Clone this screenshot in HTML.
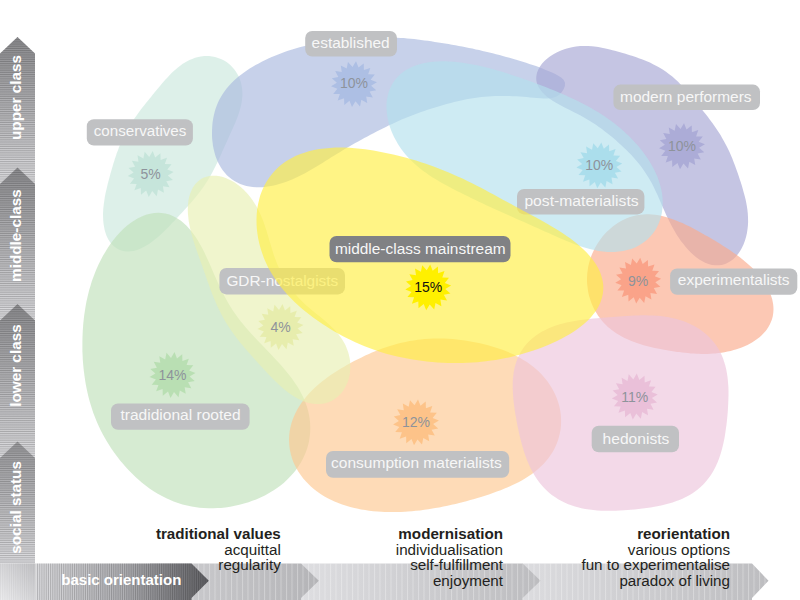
<!DOCTYPE html>
<html><head><meta charset="utf-8"><title>milieus</title>
<style>
html,body{margin:0;padding:0;background:#fff}
body{width:800px;height:600px;overflow:hidden;font-family:"Liberation Sans",sans-serif}
svg{display:block}
text{font-family:"Liberation Sans",sans-serif}
.cols text{font-size:15.2px;fill:#231f20}
.cols .b{font-weight:bold}
</style></head><body>
<svg width="800" height="600" viewBox="0 0 800 600">
<defs>
<linearGradient id="vg0" gradientUnits="userSpaceOnUse" x1="0" y1="37.0" x2="0" y2="183.8"><stop offset="0" stop-color="#8f8f92"/><stop offset="1" stop-color="#e0e0e3"/></linearGradient>
<linearGradient id="vg1" gradientUnits="userSpaceOnUse" x1="0" y1="167.5" x2="0" y2="320.5"><stop offset="0" stop-color="#8f8f92"/><stop offset="1" stop-color="#e0e0e3"/></linearGradient>
<linearGradient id="vg2" gradientUnits="userSpaceOnUse" x1="0" y1="304.0" x2="0" y2="458.0"><stop offset="0" stop-color="#8f8f92"/><stop offset="1" stop-color="#e0e0e3"/></linearGradient>
<linearGradient id="vg3" gradientUnits="userSpaceOnUse" x1="0" y1="441.5" x2="0" y2="563.5"><stop offset="0" stop-color="#9c9c9f"/><stop offset="1" stop-color="#e0e0e3"/></linearGradient>
<linearGradient id="hg0" gradientUnits="userSpaceOnUse" x1="35.5" y1="0" x2="208.8" y2="0"><stop offset="0" stop-color="#e0e0e3"/><stop offset="0.5" stop-color="#b4b4b8"/><stop offset="1" stop-color="#626266"/></linearGradient>
<linearGradient id="hg1" gradientUnits="userSpaceOnUse" x1="150.0" y1="0" x2="318.8" y2="0"><stop offset="0" stop-color="#cfcfd2"/><stop offset="1" stop-color="#b4b4b7"/></linearGradient>
<linearGradient id="hg2" gradientUnits="userSpaceOnUse" x1="301.0" y1="0" x2="540.5" y2="0"><stop offset="0" stop-color="#dedee1"/><stop offset="1" stop-color="#bcbcbf"/></linearGradient>
<linearGradient id="hg3" gradientUnits="userSpaceOnUse" x1="522.5" y1="0" x2="768.5" y2="0"><stop offset="0" stop-color="#dcdcdf"/><stop offset="1" stop-color="#bdbdc0"/></linearGradient>
<pattern id="hst" width="4" height="1.85" patternUnits="userSpaceOnUse"><rect width="4" height="0.95" fill="#000" fill-opacity="0.2"/></pattern>
<pattern id="vst" width="1.85" height="4" patternUnits="userSpaceOnUse"><rect width="0.95" height="4" fill="#000" fill-opacity="0.2"/></pattern>
<pattern id="vst2" width="1.85" height="4" patternUnits="userSpaceOnUse"><rect width="0.95" height="4" fill="#000" fill-opacity="0.05"/></pattern>
<pattern id="vln" width="5.5" height="4" patternUnits="userSpaceOnUse"><rect width="1" height="4" fill="#fff" fill-opacity="0.3"/></pattern>
<linearGradient id="cg" x1="1" y1="0" x2="0" y2="1"><stop offset="0" stop-color="#c4c4c7"/><stop offset="1" stop-color="#eeeef0"/></linearGradient>
</defs>
<rect width="800" height="600" fill="#fff"/>
<g id="blobs">
<g>
<path d="M207.1 56.0L209.1 56.1L212.1 56.4L215.1 57.0L218.0 57.9L220.9 59.0L223.6 60.3L225.4 61.3L227.9 63.1L230.2 65.0L232.4 67.2L234.4 69.5L236.1 71.9L237.2 73.7L238.6 76.3L239.8 79.1L240.8 82.0L241.5 84.9L242.0 87.9L242.3 90.9L242.4 92.9L242.4 95.8L242.1 98.8L241.8 101.8L241.2 104.7L240.5 107.6L240.0 109.5L239.2 112.3L238.2 115.2L237.2 117.9L236.1 120.7L235.0 123.4L233.8 126.1L233.0 127.9L231.8 130.6L230.6 133.3L229.3 136.0L228.1 138.7L226.9 141.4L226.1 143.3L224.8 146.0L223.6 148.8L222.3 151.6L221.1 154.4L219.8 157.2L218.5 160.1L217.6 161.9L216.2 164.8L214.8 167.5L213.4 170.3L212.0 173.1L210.5 175.8L209.4 177.5L207.9 180.2L206.2 182.7L204.6 185.3L202.9 187.7L201.2 190.1L200.0 191.7L198.2 194.0L196.4 196.3L194.5 198.5L192.7 200.7L190.8 202.9L188.9 205.0L187.6 206.4L185.7 208.6L183.7 210.7L181.7 212.9L179.7 215.0L177.7 217.2L176.3 218.7L174.3 220.9L172.1 223.1L170.0 225.4L167.8 227.7L165.5 230.0L163.2 232.2L161.6 233.7L159.2 235.9L156.8 238.0L154.2 240.1L151.7 242.1L149.0 243.9L147.3 245.0L144.6 246.6L141.8 248.0L139.1 249.2L136.4 250.2L133.6 250.9L130.9 251.3L129.1 251.5L126.5 251.5L124.0 251.2L121.5 250.6L119.2 249.7L116.9 248.6L115.5 247.6L113.5 246.0L111.7 244.2L110.0 242.1L108.5 239.7L107.2 237.2L106.4 235.4L105.4 232.6L104.6 229.7L104.0 226.6L103.5 223.5L103.2 220.3L103.1 217.1L103.0 214.9L103.1 211.6L103.3 208.4L103.7 205.1L104.1 201.9L104.6 198.7L104.9 196.6L105.5 193.5L106.2 190.5L106.9 187.5L107.6 184.6L108.3 181.7L109.1 178.8L109.6 177.0L110.3 174.2L111.1 171.4L111.9 168.7L112.7 165.9L113.5 163.2L114.1 161.4L115.0 158.6L115.9 155.9L116.8 153.1L117.9 150.4L118.9 147.6L120.0 144.8L120.8 143.0L122.0 140.2L123.3 137.5L124.7 134.7L126.1 132.0L127.7 129.2L128.7 127.4L130.3 124.8L132.0 122.1L133.7 119.5L135.5 116.9L137.3 114.4L138.5 112.7L140.3 110.3L142.2 107.8L144.1 105.4L146.0 103.1L147.9 100.7L149.7 98.4L151.0 96.9L152.9 94.6L154.7 92.3L156.6 90.1L158.5 87.8L160.4 85.6L161.6 84.1L163.5 81.8L165.5 79.6L167.5 77.4L169.5 75.2L171.6 73.1L173.8 71.0L175.3 69.7L177.6 67.7L179.9 65.9L182.4 64.1L185.0 62.5L187.6 61.0L189.5 60.1L192.2 58.9L195.1 57.8L198.1 57.0L201.0 56.5L204.1 56.1Z" fill="#c8e6dc" fill-opacity="0.62"/>
<path d="M152.7 151.1L155.2 157.4L160.4 153.2L160.6 159.9L167.0 157.7L164.8 164.1L171.5 164.3L167.3 169.5L173.6 172.0L167.8 175.5L172.9 180.0L166.3 181.3L169.5 187.2L162.9 186.2L163.9 192.8L158.0 189.6L156.7 196.2L152.2 191.1L148.7 196.9L146.2 190.6L141.0 194.8L140.8 188.1L134.4 190.3L136.6 183.9L129.9 183.7L134.1 178.5L127.8 176.0L133.6 172.5L128.5 168.0L135.1 166.7L131.9 160.8L138.5 161.8L137.5 155.2L143.4 158.4L144.7 151.8L149.2 156.9Z" fill="#b8dfd2" fill-opacity="0.62"/>
<text x="150.7" y="179.0" font-size="14" text-anchor="middle" fill="#8e939b">5%</text>
<rect x="86.8" y="119.3" width="106.1" height="26.3" rx="7" fill="#c0c1c3"/>
<text x="93.7" y="136.2" font-size="15.3" textLength="92.7" lengthAdjust="spacingAndGlyphs" fill="#f7f7f7">conservatives</text>
</g>
<g>
<path d="M212.6 122.2L213.1 118.9L213.8 115.6L214.6 112.3L215.5 109.1L216.6 105.9L217.9 102.8L219.3 99.8L220.9 96.9L222.7 94.0L224.6 91.3L226.6 88.6L228.8 86.0L231.1 83.5L233.5 81.1L236.0 78.8L238.6 76.6L241.3 74.5L244.0 72.4L246.8 70.5L249.7 68.6L252.7 66.8L255.6 65.1L258.7 63.4L261.7 61.8L264.8 60.2L267.9 58.8L271.1 57.3L274.3 56.0L277.5 54.7L280.7 53.4L283.9 52.2L287.2 51.0L290.5 50.0L293.8 48.9L297.1 47.9L300.5 47.0L303.8 46.2L307.2 45.4L310.6 44.6L314.0 43.9L317.4 43.3L320.8 42.7L324.2 42.1L327.6 41.6L331.1 41.1L334.5 40.6L338.0 40.1L341.4 39.7L344.9 39.4L348.3 39.0L351.8 38.7L355.2 38.4L358.7 38.1L362.2 37.9L365.6 37.7L369.1 37.6L372.6 37.4L376.0 37.3L379.5 37.3L383.0 37.3L386.4 37.3L389.9 37.4L393.4 37.5L396.8 37.7L400.3 37.9L403.8 38.1L407.2 38.4L410.7 38.7L414.1 39.1L417.6 39.5L421.0 39.9L424.5 40.4L427.9 40.8L431.3 41.3L434.8 41.9L438.2 42.4L441.7 42.9L445.1 43.5L448.5 44.1L451.9 44.7L455.4 45.3L458.8 45.9L462.2 46.6L465.6 47.3L469.0 47.9L472.4 48.6L475.8 49.4L479.2 50.1L482.6 50.9L486.0 51.7L489.3 52.5L492.7 53.3L496.1 54.2L499.5 55.1L502.8 56.0L506.2 56.9L509.5 57.8L512.8 58.8L516.2 59.8L519.5 60.7L522.8 61.7L526.1 62.8L529.4 63.9L532.7 65.0L536.0 66.1L539.3 67.3L542.5 68.6L545.7 69.9L549.0 71.2L552.1 72.6L555.3 74.1L558.3 75.7L561.2 77.5L563.6 79.8L565.0 82.7L564.9 85.9L563.7 89.0L561.9 92.0L559.6 94.4L556.9 96.3L553.8 97.5L550.5 98.2L547.1 98.4L543.7 98.4L540.3 98.3L536.8 98.0L533.4 97.7L529.9 97.4L526.5 97.0L523.0 96.7L519.5 96.5L516.1 96.3L512.6 96.2L509.2 96.1L505.7 96.0L502.2 95.9L498.8 96.0L495.3 96.0L491.9 96.2L488.4 96.4L485.0 96.7L481.5 97.0L478.1 97.5L474.7 97.9L471.3 98.5L467.8 99.1L464.4 99.8L461.1 100.5L457.7 101.2L454.3 102.0L450.9 102.9L447.6 103.8L444.2 104.7L440.9 105.7L437.6 106.7L434.3 107.7L430.9 108.7L427.6 109.8L424.4 110.9L421.1 112.1L417.8 113.2L414.5 114.4L411.3 115.7L408.1 116.9L404.9 118.3L401.7 119.6L398.5 121.0L395.3 122.4L392.2 123.9L389.0 125.3L385.9 126.9L382.8 128.4L379.7 130.0L376.6 131.6L373.5 133.2L370.4 134.8L367.4 136.4L364.3 138.1L361.3 139.7L358.2 141.4L355.2 143.1L352.2 144.8L349.2 146.6L346.2 148.3L343.2 150.1L340.2 151.9L337.2 153.7L334.3 155.5L331.3 157.3L328.4 159.2L325.4 161.0L322.5 162.9L319.5 164.7L316.6 166.5L313.6 168.3L310.6 170.0L307.6 171.7L304.6 173.4L301.5 175.0L298.4 176.5L295.3 178.0L292.1 179.4L288.9 180.7L285.7 181.9L282.5 183.0L279.2 184.0L275.9 184.9L272.6 185.7L269.3 186.3L266.0 186.8L262.6 187.2L259.3 187.3L256.0 187.3L252.7 187.0L249.5 186.6L246.3 185.9L243.2 185.1L240.2 183.9L237.3 182.6L234.5 181.1L231.8 179.3L229.3 177.3L226.9 175.2L224.8 172.8L222.7 170.3L220.9 167.6L219.3 164.8L217.8 161.8L216.5 158.8L215.4 155.7L214.5 152.5L213.7 149.2L213.0 145.9L212.6 142.6L212.2 139.2L212.0 135.8L212.0 132.4L212.1 129.0L212.3 125.6Z" fill="#a9b9de" fill-opacity="0.65"/>
<path d="M356.0 61.3L358.5 67.6L363.7 63.4L363.9 70.1L370.3 67.9L368.1 74.3L374.8 74.5L370.6 79.7L376.9 82.2L371.1 85.7L376.2 90.2L369.6 91.5L372.8 97.4L366.2 96.4L367.2 103.0L361.3 99.8L360.0 106.4L355.5 101.3L352.0 107.1L349.5 100.8L344.3 105.0L344.1 98.3L337.7 100.5L339.9 94.1L333.2 93.9L337.4 88.7L331.1 86.2L336.9 82.7L331.8 78.2L338.4 76.9L335.2 71.0L341.8 72.0L340.8 65.4L346.7 68.6L348.0 62.0L352.5 67.1Z" fill="#9db3e0" fill-opacity="0.62"/>
<text x="354.0" y="88.3" font-size="14" text-anchor="middle" fill="#8e939b">10%</text>
<rect x="305.2" y="31.0" width="91.8" height="25.5" rx="7" fill="#c0c1c3"/>
<text x="311.6" y="47.5" font-size="15.3" textLength="78.1" lengthAdjust="spacingAndGlyphs" fill="#f7f7f7">established</text>
</g>
<g>
<path d="M536.2 77.8L536.4 75.8L537.1 72.6L538.3 69.5L540.0 66.5L542.1 63.5L544.7 60.7L546.7 58.9L549.9 56.4L553.4 54.2L557.1 52.2L561.0 50.4L565.1 49.0L567.8 48.2L571.9 47.2L576.0 46.5L580.1 46.1L584.1 46.0L588.1 46.0L591.9 46.3L594.4 46.6L598.2 47.1L601.8 47.8L605.4 48.5L608.9 49.3L612.5 50.2L614.8 50.8L618.3 51.8L621.9 52.8L625.5 53.8L629.1 54.9L632.7 56.1L636.4 57.3L638.8 58.2L642.5 59.6L646.2 61.0L649.9 62.6L653.5 64.4L657.0 66.2L659.3 67.5L662.7 69.6L666.0 71.8L669.2 74.2L672.3 76.6L675.3 79.2L678.1 81.8L679.9 83.7L682.6 86.4L685.2 89.2L687.7 92.0L690.1 94.9L692.5 97.8L694.1 99.7L696.5 102.6L698.8 105.5L701.1 108.4L703.5 111.4L705.8 114.3L707.4 116.3L709.7 119.4L712.0 122.5L714.3 125.7L716.5 128.9L718.7 132.2L720.8 135.6L722.1 137.9L724.1 141.4L726.0 144.9L727.8 148.5L729.5 152.1L731.1 155.7L732.1 158.1L733.5 161.7L734.9 165.3L736.2 168.9L737.5 172.4L738.7 175.9L739.8 179.5L740.6 181.8L741.7 185.3L742.7 188.8L743.7 192.4L744.7 195.9L745.6 199.6L746.1 202.1L746.8 205.8L747.4 209.7L747.8 213.6L748.0 217.6L748.1 221.7L747.9 225.8L747.6 228.6L747.0 232.7L746.1 236.7L744.9 240.7L743.5 244.6L741.7 248.2L740.4 250.5L738.2 253.7L735.8 256.7L733.2 259.2L730.3 261.3L727.3 263.0L725.2 263.9L721.9 264.9L718.6 265.3L715.3 265.3L711.9 264.9L708.5 264.0L705.1 262.7L702.9 261.6L699.7 259.7L696.5 257.5L693.5 255.0L690.5 252.3L687.7 249.3L685.9 247.3L683.4 244.1L680.9 240.9L678.6 237.5L676.4 234.2L674.4 230.7L672.4 227.3L671.2 225.0L669.4 221.6L667.7 218.1L666.1 214.7L664.6 211.2L663.0 207.7L662.0 205.4L660.5 202.0L659.0 198.5L657.5 195.1L655.9 191.7L654.3 188.2L652.6 184.8L651.4 182.6L649.5 179.2L647.5 175.9L645.4 172.7L643.2 169.5L640.9 166.3L639.3 164.2L636.8 161.2L634.2 158.2L631.6 155.3L628.8 152.5L626.1 149.7L624.2 147.9L621.3 145.2L618.5 142.7L615.6 140.1L612.7 137.6L609.8 135.2L606.9 132.9L604.9 131.4L601.9 129.1L598.9 126.9L595.9 124.8L592.7 122.7L589.5 120.7L587.3 119.4L584.0 117.5L580.6 115.6L577.1 113.7L573.5 111.9L569.8 110.1L566.1 108.2L563.7 107.0L560.0 105.0L556.4 103.0L553.0 100.9L549.7 98.7L546.7 96.4L544.8 94.8L542.3 92.3L540.1 89.6L538.4 86.8L537.2 83.9L536.4 80.9Z" fill="#a6a6d4" fill-opacity="0.65"/>
<path d="M684.0 123.3L686.5 129.6L691.7 125.4L691.9 132.2L698.3 130.0L696.1 136.4L702.8 136.5L698.6 141.8L704.9 144.2L699.1 147.7L704.2 152.2L697.6 153.5L700.8 159.4L694.2 158.4L695.2 165.1L689.3 161.8L688.0 168.5L683.5 163.4L680.0 169.2L677.5 162.9L672.3 167.1L672.1 160.3L665.7 162.5L667.9 156.1L661.2 156.0L665.4 150.7L659.1 148.3L664.9 144.8L659.8 140.3L666.4 139.0L663.2 133.1L669.8 134.1L668.8 127.4L674.7 130.7L676.0 124.0L680.5 129.1Z" fill="#9c9cd0" fill-opacity="0.62"/>
<text x="682.0" y="151.2" font-size="14" text-anchor="middle" fill="#8e939b">10%</text>
<rect x="613.4" y="84.6" width="146.6" height="25.4" rx="7" fill="#c0c1c3"/>
<text x="620.0" y="101.6" font-size="15.3" textLength="131.6" lengthAdjust="spacingAndGlyphs" fill="#f7f7f7">modern performers</text>
</g>
<g>
<path d="M587.0 281.2L587.0 279.2L587.1 276.2L587.3 273.2L587.7 270.2L588.1 267.2L588.8 264.2L589.3 262.3L590.1 259.4L591.1 256.5L592.2 253.7L593.5 250.9L594.8 248.2L595.8 246.4L597.4 243.8L599.1 241.2L600.9 238.7L602.7 236.3L604.7 234.0L606.8 231.8L608.3 230.4L610.5 228.4L612.8 226.4L615.2 224.7L617.7 223.0L620.2 221.4L622.0 220.5L624.6 219.2L627.3 218.0L630.0 217.0L632.8 216.2L635.6 215.5L638.5 214.9L640.4 214.7L643.3 214.4L646.2 214.2L649.2 214.3L652.1 214.4L655.1 214.8L657.1 215.0L660.0 215.6L663.0 216.2L665.9 217.0L668.9 217.9L671.8 218.9L674.7 219.9L676.6 220.7L679.5 221.9L682.4 223.1L685.2 224.4L688.0 225.8L690.7 227.1L692.5 228.1L695.2 229.5L697.9 231.0L700.6 232.4L703.2 233.9L705.8 235.4L707.5 236.3L710.0 237.8L712.5 239.3L715.1 240.8L717.5 242.3L720.0 243.8L722.5 245.4L724.1 246.4L726.5 248.0L729.0 249.6L731.4 251.2L733.8 252.9L736.2 254.6L737.8 255.7L740.2 257.6L742.6 259.4L745.0 261.4L747.3 263.4L749.6 265.4L751.9 267.6L753.4 269.1L755.5 271.3L757.7 273.7L759.7 276.1L761.6 278.6L763.5 281.1L764.6 282.9L766.3 285.5L767.8 288.2L769.1 290.9L770.3 293.7L771.3 296.5L772.2 299.3L772.6 301.2L773.1 304.0L773.4 306.8L773.5 309.6L773.3 312.4L773.0 315.1L772.6 316.9L771.9 319.5L770.9 322.1L769.8 324.6L768.4 327.1L766.8 329.4L765.7 330.9L763.8 333.1L761.7 335.2L759.5 337.2L757.1 339.0L754.6 340.8L752.0 342.4L750.2 343.5L747.5 344.9L744.6 346.2L741.7 347.5L738.7 348.5L735.7 349.5L733.7 350.1L730.7 350.9L727.6 351.6L724.5 352.2L721.5 352.7L718.4 353.1L715.4 353.4L713.4 353.6L710.4 353.8L707.4 353.9L704.5 353.9L701.5 353.9L698.6 353.8L696.6 353.7L693.7 353.6L690.8 353.4L687.9 353.1L685.0 352.8L682.1 352.5L679.2 352.1L677.2 351.9L674.3 351.5L671.4 351.0L668.4 350.5L665.5 350.0L662.5 349.5L660.5 349.1L657.6 348.5L654.6 347.9L651.6 347.2L648.6 346.5L645.6 345.7L643.6 345.2L640.7 344.3L637.7 343.3L634.8 342.3L632.0 341.3L629.1 340.1L626.3 338.8L624.5 338.0L621.8 336.6L619.2 335.1L616.6 333.5L614.1 331.8L611.7 330.0L610.2 328.8L607.9 326.9L605.7 324.8L603.7 322.7L601.7 320.4L599.9 318.1L598.1 315.7L597.1 314.1L595.5 311.5L594.1 308.9L592.8 306.3L591.6 303.5L590.6 300.7L590.0 298.8L589.1 296.0L588.4 293.0L587.9 290.1L587.5 287.1L587.2 284.2Z" fill="#fbab8c" fill-opacity="0.65"/>
<path d="M640.2 257.8L642.7 264.1L647.9 259.9L648.1 266.6L654.5 264.4L652.3 270.8L659.0 271.0L654.8 276.2L661.1 278.7L655.3 282.2L660.4 286.7L653.8 288.0L657.0 293.9L650.4 292.9L651.4 299.5L645.5 296.3L644.2 302.9L639.7 297.8L636.2 303.6L633.7 297.3L628.5 301.5L628.3 294.8L621.9 297.0L624.1 290.6L617.4 290.4L621.6 285.2L615.3 282.7L621.1 279.2L616.0 274.7L622.6 273.4L619.4 267.5L626.0 268.5L625.0 261.9L630.9 265.1L632.2 258.5L636.7 263.6Z" fill="#f88c70" fill-opacity="0.62"/>
<text x="638.2" y="286.0" font-size="14" text-anchor="middle" fill="#8e939b">9%</text>
<rect x="670.1" y="268.5" width="127.2" height="26.2" rx="7" fill="#c0c1c3"/>
<text x="677.8" y="285.1" font-size="15.3" textLength="111.8" lengthAdjust="spacingAndGlyphs" fill="#f7f7f7">experimentalists</text>
</g>
<g>
<path d="M386.5 104.0L386.7 101.2L387.4 97.1L388.3 93.2L389.6 89.4L391.3 85.8L393.2 82.4L394.7 80.3L397.2 77.3L400.0 74.5L403.1 72.0L406.4 69.8L409.9 67.9L412.4 66.8L416.3 65.3L420.3 64.0L424.5 63.0L428.8 62.3L433.1 61.7L437.5 61.4L440.5 61.3L445.0 61.3L449.4 61.4L453.9 61.7L458.3 62.2L462.7 62.7L465.6 63.2L469.9 63.9L474.1 64.7L478.3 65.6L482.5 66.5L486.6 67.5L490.6 68.6L493.3 69.3L497.3 70.4L501.3 71.6L505.2 72.8L509.1 74.1L513.1 75.4L515.7 76.2L519.6 77.6L523.6 78.9L527.5 80.3L531.5 81.8L535.5 83.2L539.5 84.7L542.2 85.8L546.2 87.3L550.2 88.9L554.3 90.5L558.3 92.2L562.3 93.9L565.0 95.1L568.9 96.9L572.9 98.7L576.8 100.5L580.6 102.5L584.4 104.4L586.9 105.8L590.6 107.8L594.3 109.9L597.9 112.1L601.4 114.3L604.9 116.6L608.3 119.0L610.6 120.6L613.9 123.1L617.2 125.7L620.4 128.3L623.5 131.0L626.6 133.9L628.6 135.8L631.6 138.8L634.5 141.9L637.4 145.0L640.1 148.3L642.8 151.7L645.4 155.2L647.0 157.6L649.4 161.2L651.6 165.0L653.7 168.8L655.6 172.8L657.4 176.8L658.4 179.6L659.8 183.7L660.9 187.9L661.8 192.2L662.4 196.4L662.7 200.7L662.7 205.0L662.5 207.8L662.0 211.9L661.2 216.0L660.0 220.0L658.6 223.8L656.8 227.5L655.4 229.9L653.1 233.2L650.5 236.3L647.7 239.2L644.5 241.8L641.2 244.1L638.8 245.5L635.1 247.4L631.2 248.9L627.2 250.1L623.1 251.0L618.9 251.6L614.6 251.9L611.7 252.0L607.3 251.9L602.9 251.5L598.6 250.9L594.2 250.1L589.9 249.1L587.1 248.3L582.8 247.0L578.7 245.7L574.6 244.2L570.5 242.6L566.5 241.0L562.6 239.3L560.0 238.2L556.2 236.5L552.3 234.8L548.6 233.1L544.8 231.4L541.0 229.7L538.5 228.6L534.8 226.9L531.0 225.2L527.2 223.5L523.4 221.8L519.6 220.2L515.7 218.5L513.1 217.3L509.2 215.6L505.3 213.8L501.3 212.1L497.4 210.3L493.4 208.5L490.8 207.3L486.8 205.4L482.8 203.5L478.9 201.7L474.9 199.8L471.0 197.9L468.4 196.6L464.5 194.7L460.7 192.8L456.9 190.9L453.1 189.0L449.4 187.0L445.8 185.0L443.3 183.7L439.8 181.7L436.2 179.6L432.7 177.4L429.3 175.2L425.9 172.8L423.6 171.2L420.4 168.7L417.1 166.1L414.0 163.3L410.9 160.3L408.0 157.2L405.1 154.0L403.3 151.7L400.7 148.2L398.2 144.5L396.0 140.6L393.9 136.7L392.0 132.6L390.9 129.8L389.4 125.5L388.3 121.2L387.4 116.9L386.8 112.5L386.5 108.2Z" fill="#b4e0ec" fill-opacity="0.65"/>
<path d="M601.3 142.5L603.8 148.8L609.0 144.6L609.2 151.3L615.6 149.1L613.4 155.5L620.1 155.7L615.9 160.9L622.2 163.4L616.4 166.9L621.5 171.4L614.9 172.7L618.1 178.6L611.5 177.6L612.5 184.2L606.6 181.0L605.3 187.6L600.8 182.5L597.3 188.3L594.8 182.0L589.6 186.2L589.4 179.5L583.0 181.7L585.2 175.3L578.5 175.1L582.7 169.9L576.4 167.4L582.2 163.9L577.1 159.4L583.7 158.1L580.5 152.2L587.1 153.2L586.1 146.6L592.0 149.8L593.3 143.2L597.8 148.3Z" fill="#96d6e6" fill-opacity="0.62"/>
<text x="599.3" y="170.4" font-size="14" text-anchor="middle" fill="#8e939b">10%</text>
<rect x="517.0" y="189.0" width="127.4" height="25.4" rx="7" fill="#c0c1c3"/>
<text x="524.4" y="206.0" font-size="15.3" textLength="114.2" lengthAdjust="spacingAndGlyphs" fill="#f7f7f7">post-materialists</text>
</g>
<g>
<path d="M158.5 212.8L161.3 212.9L165.4 213.5L169.4 214.6L173.3 216.2L177.0 218.2L180.6 220.6L183.0 222.4L186.3 225.5L189.5 228.9L192.4 232.5L195.3 236.5L197.9 240.6L199.6 243.4L202.0 247.8L204.3 252.3L206.5 256.9L208.6 261.5L210.6 266.1L212.6 270.7L213.9 273.7L215.9 278.3L217.9 282.7L219.9 287.1L221.9 291.3L224.1 295.5L225.6 298.3L227.8 302.3L230.2 306.3L232.7 310.2L235.3 314.0L238.0 317.7L240.8 321.4L242.8 323.8L245.8 327.4L248.9 331.0L252.0 334.5L255.3 338.0L258.6 341.5L260.8 343.8L264.2 347.3L267.5 350.8L270.9 354.3L274.3 357.9L277.6 361.4L280.9 365.0L283.0 367.5L286.1 371.2L289.2 374.9L292.1 378.8L294.8 382.7L297.4 386.6L299.1 389.3L301.3 393.4L303.4 397.6L305.2 401.9L306.8 406.3L308.1 410.7L308.8 413.7L309.6 418.3L310.1 422.9L310.3 427.5L310.2 432.1L309.7 436.7L309.0 441.4L308.3 444.4L307.0 448.9L305.3 453.4L303.4 457.7L301.2 461.9L298.7 466.0L296.9 468.7L293.9 472.5L290.7 476.1L287.3 479.6L283.7 482.9L279.9 485.9L276.0 488.8L273.3 490.6L269.1 493.1L264.9 495.4L260.5 497.5L256.1 499.4L251.6 501.1L248.6 502.2L244.0 503.6L239.4 504.8L234.8 505.8L230.2 506.7L225.5 507.4L220.9 507.9L217.8 508.1L213.2 508.3L208.5 508.3L203.9 508.1L199.3 507.7L194.7 507.1L191.6 506.6L187.1 505.6L182.5 504.4L178.0 503.1L173.6 501.4L169.2 499.6L166.3 498.3L162.0 496.1L157.7 493.7L153.6 491.2L149.5 488.4L145.6 485.5L141.7 482.4L139.2 480.3L135.5 477.0L132.0 473.6L128.5 470.1L125.3 466.5L122.1 462.8L120.1 460.4L117.1 456.6L114.3 452.8L111.6 448.9L109.1 445.1L106.6 441.1L104.3 437.1L102.9 434.5L100.8 430.4L98.8 426.3L96.9 422.1L95.2 417.8L93.5 413.5L92.5 410.6L91.1 406.1L89.7 401.6L88.5 397.0L87.4 392.3L86.4 387.6L85.5 382.7L85.0 379.5L84.3 374.6L83.7 369.7L83.2 364.7L82.8 359.8L82.6 354.8L82.4 351.5L82.4 346.6L82.4 341.7L82.5 336.9L82.7 332.1L83.0 327.4L83.2 324.3L83.7 319.7L84.2 315.2L84.9 310.7L85.6 306.2L86.4 301.8L87.4 297.4L88.1 294.5L89.2 290.1L90.5 285.7L91.8 281.3L93.4 276.9L95.1 272.5L96.3 269.6L98.3 265.1L100.4 260.7L102.7 256.2L105.3 251.9L108.0 247.5L110.9 243.3L113.0 240.5L116.2 236.5L119.6 232.7L123.2 229.1L126.9 225.8L130.8 222.7L133.5 220.9L137.5 218.5L141.7 216.4L145.9 214.8L150.1 213.7L154.3 213.0Z" fill="#c0e0ba" fill-opacity="0.65"/>
<path d="M174.5 352.1L177.0 358.4L182.2 354.2L182.4 360.9L188.8 358.7L186.6 365.1L193.3 365.3L189.1 370.5L195.4 373.0L189.6 376.5L194.7 381.0L188.1 382.3L191.3 388.2L184.7 387.2L185.7 393.8L179.8 390.6L178.5 397.2L174.0 392.1L170.5 397.9L168.0 391.6L162.8 395.8L162.6 389.1L156.2 391.3L158.4 384.9L151.7 384.7L155.9 379.5L149.6 377.0L155.4 373.5L150.3 369.0L156.9 367.7L153.7 361.8L160.3 362.8L159.3 356.2L165.2 359.4L166.5 352.8L171.0 357.9Z" fill="#a8d8a0" fill-opacity="0.62"/>
<text x="172.5" y="379.6" font-size="14" text-anchor="middle" fill="#8e939b">14%</text>
<rect x="111.0" y="403.5" width="138.6" height="26.3" rx="7" fill="#c0c1c3"/>
<text x="120.4" y="420.2" font-size="15.3" textLength="120.2" lengthAdjust="spacingAndGlyphs" fill="#f7f7f7">tradidional rooted</text>
</g>
<g>
<path d="M289.1 441.9L289.0 439.2L289.2 435.2L289.7 431.1L290.5 427.1L291.5 423.1L292.8 419.2L293.8 416.7L295.5 412.9L297.4 409.2L299.6 405.7L301.9 402.2L304.4 398.9L306.2 396.7L309.0 393.5L311.9 390.5L315.0 387.6L318.1 384.8L321.3 382.1L324.7 379.5L326.9 377.8L330.3 375.3L333.8 373.0L337.3 370.7L340.9 368.5L344.5 366.4L346.9 365.0L350.5 363.0L354.1 361.1L357.8 359.2L361.5 357.4L365.2 355.6L368.9 353.9L371.4 352.8L375.2 351.2L379.0 349.7L382.9 348.3L386.8 346.9L390.7 345.7L393.4 344.9L397.3 343.8L401.4 342.8L405.4 341.9L409.5 341.1L413.6 340.4L417.8 339.8L420.5 339.5L424.7 339.1L428.9 338.8L433.1 338.6L437.3 338.5L441.5 338.6L444.3 338.6L448.5 338.8L452.7 339.1L456.9 339.5L461.0 340.0L465.2 340.6L467.9 341.0L472.0 341.7L476.1 342.4L480.1 343.3L484.2 344.3L488.1 345.3L492.1 346.4L494.7 347.2L498.6 348.5L502.5 349.8L506.3 351.3L510.1 352.9L513.8 354.6L516.3 355.9L519.9 357.8L523.4 359.9L526.9 362.1L530.3 364.5L533.6 367.0L536.8 369.7L538.8 371.6L541.7 374.6L544.5 377.7L547.2 381.0L549.6 384.4L551.8 388.0L553.2 390.5L555.1 394.2L556.7 398.1L558.1 402.1L559.3 406.1L560.2 410.2L560.8 414.4L561.0 417.1L561.1 421.3L561.0 425.4L560.6 429.5L559.8 433.6L558.8 437.6L558.0 440.2L556.6 444.0L554.9 447.8L553.0 451.4L550.8 454.8L548.4 458.2L546.7 460.3L544.0 463.4L541.1 466.3L538.1 469.1L534.9 471.7L531.6 474.2L528.1 476.6L525.8 478.0L522.2 480.2L518.5 482.2L514.8 484.1L511.0 485.8L507.2 487.5L504.6 488.6L500.7 490.2L496.8 491.6L492.9 493.0L488.9 494.4L485.0 495.7L481.0 496.9L478.3 497.8L474.3 498.9L470.3 500.1L466.3 501.2L462.3 502.2L458.3 503.2L455.6 503.9L451.5 504.8L447.5 505.7L443.4 506.6L439.3 507.4L435.2 508.1L431.1 508.8L428.4 509.3L424.3 509.8L420.1 510.4L416.0 510.8L411.9 511.2L407.8 511.6L405.0 511.7L400.9 511.9L396.7 512.1L392.6 512.1L388.5 512.1L384.3 512.0L381.6 511.8L377.5 511.5L373.3 511.2L369.2 510.7L365.1 510.1L361.0 509.4L357.0 508.6L354.3 508.0L350.2 507.0L346.2 505.8L342.2 504.5L338.3 503.1L334.5 501.5L331.9 500.3L328.2 498.4L324.5 496.4L320.9 494.2L317.4 491.8L314.1 489.2L310.9 486.5L308.9 484.6L306.0 481.6L303.2 478.4L300.7 475.1L298.4 471.7L296.3 468.1L295.0 465.6L293.3 461.9L291.9 458.0L290.8 454.1L289.9 450.1L289.4 446.0Z" fill="#fdc890" fill-opacity="0.65"/>
<path d="M418.0 399.5L420.5 405.8L425.7 401.6L425.9 408.3L432.3 406.1L430.1 412.5L436.8 412.7L432.6 417.9L438.9 420.4L433.1 423.9L438.2 428.4L431.6 429.7L434.8 435.6L428.2 434.6L429.2 441.2L423.3 438.0L422.0 444.6L417.5 439.5L414.0 445.3L411.5 439.0L406.3 443.2L406.1 436.5L399.7 438.7L401.9 432.3L395.2 432.1L399.4 426.9L393.1 424.4L398.9 420.9L393.8 416.4L400.4 415.1L397.2 409.2L403.8 410.2L402.8 403.6L408.7 406.8L410.0 400.2L414.5 405.3Z" fill="#fbb46c" fill-opacity="0.62"/>
<text x="416.0" y="427.4" font-size="14" text-anchor="middle" fill="#8e939b">12%</text>
<rect x="326.0" y="451.0" width="183.2" height="26.8" rx="7" fill="#c0c1c3"/>
<text x="331.1" y="467.8" font-size="15.3" textLength="170.7" lengthAdjust="spacingAndGlyphs" fill="#f7f7f7">consumption materialists</text>
</g>
<g>
<path d="M512.8 390.6L512.7 387.9L512.7 384.0L512.8 380.1L513.2 376.2L513.7 372.3L514.4 368.6L515.0 366.1L516.1 362.4L517.4 358.8L518.9 355.4L520.7 352.1L522.7 348.9L524.2 346.8L526.7 343.8L529.3 341.0L532.2 338.4L535.3 336.0L538.6 333.7L542.0 331.6L544.4 330.4L548.1 328.6L551.9 327.0L555.8 325.6L559.8 324.3L563.8 323.2L566.5 322.6L570.6 321.7L574.7 320.9L578.8 320.3L582.9 319.7L586.9 319.2L590.9 318.8L593.6 318.5L597.5 318.2L601.4 317.8L605.3 317.5L609.1 317.2L612.9 316.9L615.4 316.7L619.2 316.5L623.0 316.2L626.8 316.0L630.6 315.7L634.5 315.6L638.3 315.4L640.9 315.3L644.9 315.3L648.8 315.4L652.8 315.5L656.9 315.8L660.9 316.1L663.6 316.5L667.7 317.1L671.8 317.9L675.8 318.8L679.8 320.0L683.8 321.3L686.3 322.3L690.1 324.0L693.8 325.8L697.4 327.8L700.8 330.1L704.0 332.5L707.0 335.0L709.0 336.9L711.7 339.7L714.2 342.7L716.5 345.8L718.5 349.1L720.4 352.5L721.5 354.8L723.0 358.3L724.2 361.9L725.3 365.5L726.2 369.3L726.9 373.1L727.5 376.9L727.8 379.4L728.1 383.3L728.4 387.2L728.5 391.2L728.5 395.1L728.4 399.1L728.3 401.8L728.1 405.8L727.9 409.8L727.6 413.9L727.2 417.9L726.8 422.0L726.3 426.1L725.9 428.8L725.3 432.9L724.7 436.9L723.9 441.0L723.0 445.0L722.0 448.9L721.3 451.5L720.1 455.4L718.8 459.2L717.3 462.9L715.7 466.5L713.9 470.0L712.6 472.2L710.6 475.5L708.3 478.6L705.9 481.6L703.3 484.4L700.6 487.0L697.7 489.5L695.7 491.0L692.6 493.2L689.3 495.2L685.9 497.0L682.4 498.7L678.8 500.2L676.4 501.1L672.6 502.4L668.8 503.5L665.0 504.6L661.1 505.5L657.2 506.3L653.2 507.0L650.6 507.4L646.6 508.0L642.6 508.6L638.6 509.0L634.6 509.5L630.6 509.8L627.9 510.1L623.9 510.3L619.9 510.6L615.9 510.7L611.9 510.8L607.9 510.8L603.8 510.8L601.2 510.7L597.2 510.4L593.2 510.1L589.2 509.6L585.3 509.0L581.4 508.2L578.8 507.6L575.0 506.6L571.2 505.3L567.6 503.9L564.0 502.3L560.5 500.5L558.2 499.2L554.9 497.1L551.8 494.9L548.8 492.4L545.9 489.7L543.2 486.9L540.6 484.0L539.0 481.9L536.7 478.7L534.6 475.4L532.6 472.0L530.7 468.5L529.0 464.8L528.0 462.4L526.5 458.7L525.1 454.9L523.8 451.1L522.7 447.2L521.6 443.4L520.6 439.5L519.9 436.8L519.0 432.9L518.2 429.0L517.3 425.0L516.6 421.1L515.9 417.1L515.4 414.5L514.8 410.5L514.2 406.5L513.7 402.5L513.3 398.5L513.0 394.5Z" fill="#ecc4dc" fill-opacity="0.65"/>
<path d="M636.8 373.6L639.3 379.9L644.5 375.7L644.7 382.4L651.1 380.2L648.9 386.6L655.6 386.8L651.4 392.0L657.7 394.5L651.9 398.0L657.0 402.5L650.4 403.8L653.6 409.7L647.0 408.7L648.0 415.3L642.1 412.1L640.8 418.7L636.3 413.6L632.8 419.4L630.3 413.1L625.1 417.3L624.9 410.6L618.5 412.8L620.7 406.4L614.0 406.2L618.2 401.0L611.9 398.5L617.7 395.0L612.6 390.5L619.2 389.2L616.0 383.3L622.6 384.3L621.6 377.7L627.5 380.9L628.8 374.3L633.3 379.4Z" fill="#e4b0d0" fill-opacity="0.62"/>
<text x="634.8" y="401.5" font-size="14" text-anchor="middle" fill="#8e939b">11%</text>
<rect x="591.7" y="425.8" width="87.3" height="26.4" rx="7" fill="#c0c1c3"/>
<text x="602.6" y="444.2" font-size="15.3" textLength="66.7" lengthAdjust="spacingAndGlyphs" fill="#f7f7f7">hedonists</text>
</g>
<g>
<path d="M211.3 175.8L213.4 175.7L216.6 175.8L219.8 176.3L223.0 177.1L226.3 178.2L229.5 179.7L231.6 180.8L234.7 182.6L237.7 184.8L240.7 187.1L243.5 189.6L246.1 192.3L247.8 194.1L250.2 197.1L252.4 200.1L254.5 203.2L256.4 206.3L258.1 209.5L259.7 212.7L260.7 214.9L262.1 218.2L263.4 221.5L264.5 224.7L265.6 228.0L266.7 231.3L267.3 233.5L268.3 236.7L269.2 240.0L270.2 243.3L271.2 246.5L272.2 249.8L273.2 253.0L273.9 255.2L275.1 258.5L276.3 261.7L277.6 264.9L279.0 268.1L280.5 271.3L281.6 273.4L283.3 276.5L285.0 279.6L286.9 282.6L288.9 285.6L290.9 288.5L293.1 291.3L294.6 293.1L296.8 295.8L299.2 298.4L301.7 300.9L304.2 303.4L306.7 305.7L308.5 307.3L311.1 309.5L313.8 311.8L316.5 314.0L319.2 316.1L321.9 318.3L323.7 319.8L326.3 322.0L328.9 324.3L331.4 326.7L333.9 329.1L336.3 331.7L338.5 334.3L339.9 336.2L341.9 339.0L343.7 342.0L345.4 345.1L346.8 348.4L348.0 351.7L348.7 354.0L349.5 357.5L350.1 361.1L350.3 364.7L350.3 368.4L350.0 372.0L349.5 375.6L348.9 377.9L347.9 381.4L346.5 384.7L344.9 387.8L343.1 390.7L341.0 393.4L339.4 395.1L337.0 397.3L334.3 399.3L331.5 400.9L328.5 402.2L325.4 403.2L322.2 403.8L320.0 404.0L316.7 404.1L313.4 403.8L310.0 403.2L306.7 402.4L303.4 401.2L301.2 400.3L298.0 398.8L294.9 397.0L291.8 395.0L288.8 392.9L285.9 390.7L284.0 389.2L281.2 386.8L278.5 384.3L275.9 381.8L273.3 379.3L270.8 376.7L268.4 374.2L266.8 372.5L264.5 370.0L262.2 367.5L259.9 365.0L257.6 362.5L255.3 360.0L253.8 358.3L251.6 355.8L249.4 353.3L247.1 350.8L244.9 348.2L242.7 345.6L240.5 342.9L239.0 341.1L236.8 338.3L234.7 335.5L232.6 332.6L230.5 329.6L228.5 326.5L227.2 324.5L225.3 321.4L223.5 318.2L221.7 315.0L220.1 311.7L218.5 308.5L216.9 305.2L216.0 303.0L214.6 299.7L213.2 296.4L211.9 293.2L210.7 289.9L209.5 286.7L208.8 284.6L207.6 281.4L206.5 278.3L205.4 275.1L204.3 272.0L203.2 268.9L202.5 266.8L201.4 263.7L200.2 260.5L199.1 257.3L197.9 254.1L196.8 250.8L195.6 247.5L194.9 245.2L193.8 241.7L192.7 238.2L191.7 234.6L190.7 231.0L189.9 227.3L189.4 224.8L188.7 221.0L188.3 217.2L187.9 213.5L187.8 209.7L187.9 206.0L188.2 202.4L188.5 200.1L189.2 196.7L190.2 193.5L191.4 190.4L192.9 187.6L194.6 185.0L195.8 183.5L197.9 181.4L200.3 179.6L202.8 178.1L205.5 177.0L208.3 176.2Z" fill="#e8efb2" fill-opacity="0.65"/>
<path d="M282.5 304.1L285.0 310.4L290.2 306.2L290.4 312.9L296.8 310.7L294.6 317.1L301.3 317.3L297.1 322.5L303.4 325.0L297.6 328.5L302.7 333.0L296.1 334.3L299.3 340.2L292.7 339.2L293.7 345.8L287.8 342.6L286.5 349.2L282.0 344.1L278.5 349.9L276.0 343.6L270.8 347.8L270.6 341.1L264.2 343.3L266.4 336.9L259.7 336.7L263.9 331.5L257.6 329.0L263.4 325.5L258.3 321.0L264.9 319.7L261.7 313.8L268.3 314.8L267.3 308.2L273.2 311.4L274.5 304.8L279.0 309.9Z" fill="#e2e89a" fill-opacity="0.62"/>
<text x="280.5" y="332.0" font-size="14" text-anchor="middle" fill="#8e939b">4%</text>
<rect x="219.4" y="268.0" width="125.6" height="26.4" rx="7" fill="#c0c1c3"/>
<text x="226.4" y="286.0" font-size="15.3" textLength="111.8" lengthAdjust="spacingAndGlyphs" fill="#f7f7f7">GDR-nostalgists</text>
</g>
<g>
<path d="M335.4 147.6L339.0 147.5L344.3 147.6L349.6 147.8L354.8 148.2L360.0 148.7L365.1 149.3L368.5 149.8L373.5 150.6L378.5 151.4L383.4 152.4L388.3 153.4L393.2 154.5L396.4 155.3L401.3 156.5L406.2 157.8L411.1 159.2L416.0 160.6L421.0 162.2L425.9 163.8L429.3 165.0L434.3 166.8L439.3 168.7L444.3 170.7L449.3 172.7L454.3 174.9L457.6 176.4L462.5 178.6L467.3 180.9L472.1 183.3L476.9 185.7L481.5 188.1L486.1 190.5L489.1 192.2L493.6 194.6L498.0 197.0L502.4 199.4L506.8 201.8L511.1 204.1L514.0 205.7L518.3 208.1L522.7 210.4L527.1 212.8L531.6 215.2L536.1 217.6L540.6 220.1L543.7 221.8L548.4 224.5L553.0 227.2L557.7 230.0L562.4 233.0L567.0 236.2L570.1 238.3L574.6 241.7L578.9 245.3L583.0 249.0L586.9 252.8L590.4 256.8L592.6 259.6L595.6 263.8L598.1 268.1L600.2 272.5L601.7 277.0L602.8 281.5L603.3 286.0L603.3 289.0L602.9 293.5L601.9 298.0L600.5 302.3L598.5 306.5L596.0 310.7L594.1 313.3L590.9 317.2L587.3 320.9L583.3 324.5L579.1 327.8L574.7 331.0L570.0 334.0L566.8 335.8L561.9 338.5L557.0 341.0L552.0 343.3L546.9 345.5L541.9 347.5L538.5 348.7L533.5 350.5L528.5 352.1L523.6 353.6L518.6 355.0L513.7 356.2L508.9 357.4L505.6 358.1L500.7 359.0L495.8 359.9L490.9 360.6L486.0 361.3L481.0 361.8L477.6 362.2L472.5 362.5L467.4 362.8L462.2 363.0L457.0 363.1L451.7 363.1L448.1 363.0L442.8 362.8L437.5 362.4L432.1 362.0L426.8 361.5L421.5 360.8L416.2 360.1L412.7 359.5L407.4 358.6L402.3 357.6L397.2 356.4L392.1 355.2L387.1 353.9L383.8 352.9L379.0 351.4L374.1 349.8L369.3 348.0L364.6 346.2L359.9 344.2L355.3 342.2L352.2 340.8L347.6 338.5L343.0 336.2L338.5 333.7L334.0 331.2L329.5 328.5L326.5 326.6L322.1 323.8L317.8 320.8L313.5 317.7L309.3 314.6L305.1 311.3L301.1 307.9L298.4 305.6L294.6 302.0L290.9 298.3L287.3 294.5L283.8 290.6L280.5 286.6L278.5 283.8L275.5 279.6L272.7 275.3L270.0 270.8L267.6 266.3L265.4 261.6L264.1 258.4L262.3 253.6L260.7 248.7L259.3 243.6L258.2 238.5L257.4 233.4L256.8 228.2L256.6 224.7L256.5 219.4L256.7 214.2L257.2 209.0L258.1 203.9L259.3 198.9L260.2 195.6L262.0 190.8L264.1 186.1L266.5 181.7L269.3 177.4L272.4 173.4L275.8 169.7L278.3 167.3L282.2 164.1L286.4 161.1L290.9 158.5L295.5 156.1L300.4 154.1L303.7 152.9L308.8 151.3L314.0 150.1L319.3 149.1L324.7 148.4L330.0 147.9Z" fill="#ffee44" fill-opacity="0.65"/>
<path d="M430.2 264.5L432.7 270.8L437.9 266.6L438.1 273.3L444.5 271.1L442.3 277.5L449.0 277.7L444.8 282.9L451.1 285.4L445.3 288.9L450.4 293.4L443.8 294.7L447.0 300.6L440.4 299.6L441.4 306.2L435.5 303.0L434.2 309.6L429.7 304.5L426.2 310.3L423.7 304.0L418.5 308.2L418.3 301.5L411.9 303.7L414.1 297.3L407.4 297.1L411.6 291.9L405.3 289.4L411.1 285.9L406.0 281.4L412.6 280.1L409.4 274.2L416.0 275.2L415.0 268.6L420.9 271.8L422.2 265.2L426.7 270.3Z" fill="#fff000" fill-opacity="1"/>
<text x="428.2" y="292.4" font-size="14" text-anchor="middle" fill="#111">15%</text>
<rect x="329.5" y="236.0" width="181.0" height="26.2" rx="7" fill="#808184"/>
<text x="334.9" y="254.0" font-size="15.3" textLength="170.7" lengthAdjust="spacingAndGlyphs" fill="#f7f7f7">middle-class mainstream</text>
</g>
</g>
<g id="vaxis">
<path d="M17.5 37.0L35 53.5V183.8H0V53.5Z" fill="url(#vg0)"/>
<path d="M17.5 167.5L35 184.0V320.5H0V184.0Z" fill="url(#vg1)"/>
<path d="M17.5 304.0L35 320.5V458.0H0V320.5Z" fill="url(#vg2)"/>
<path d="M17.5 441.5L35 458.0V563.5H0V458.0Z" fill="url(#vg3)"/>
<path d="M17.5 37L35 53.5V563.5H0V53.5Z" fill="url(#hst)"/>
<text transform="translate(21.3 97.5) rotate(-90)" text-anchor="middle" font-size="15.3" font-weight="bold" fill="#fff">upper class</text>
<text transform="translate(21.3 235.6) rotate(-90)" text-anchor="middle" font-size="15.3" font-weight="bold" fill="#fff">middle-class</text>
<text transform="translate(21.3 365.6) rotate(-90)" text-anchor="middle" font-size="15.3" font-weight="bold" fill="#fff">lower class</text>
<text transform="translate(21.3 507.4) rotate(-90)" text-anchor="middle" font-size="15.3" font-weight="bold" fill="#fff">social status</text>
</g>
<g id="haxis">
<rect x="0" y="563.5" width="35" height="36.5" fill="url(#cg)"/>
<path d="M522.5 563.5H752.0L768.5 580.7L752.0 598V600H522.5Z" fill="url(#hg3)"/>
<path d="M301.0 563.5H522.7L540.5 580.7L522.7 598V600H301.0Z" fill="url(#hg2)"/>
<path d="M150.0 563.5H301.0L318.8 580.7L301.0 598V600H150.0Z" fill="url(#hg1)"/>
<path d="M35.5 563.5H191.5L208.8 580.7L191.5 598V600H35.5Z" fill="url(#hg0)"/>
<path d="M35.5 563.5H191.5L208.75 580.7L191.5 598V600H35.5Z" fill="url(#vst)"/>
<rect x="0" y="563.5" width="35.5" height="36.5" fill="url(#vst2)"/>
<path d="M191.5 563.5H752L768.5 580.7L752 598V600H191.5V598L208.75 580.7Z" fill="url(#vln)"/>
<text x="121.3" y="584.7" text-anchor="middle" font-size="15" font-weight="bold" fill="#fff">basic orientation</text>
</g>
<g class="cols" text-anchor="end">
<text x="280.8" y="539" class="b">traditional values</text>
<text x="280.8" y="554.6">acquittal</text>
<text x="280.8" y="570.2">regularity</text>
<text x="503" y="539" class="b">modernisation</text>
<text x="503" y="554.6">individualisation</text>
<text x="503" y="570.2">self-fulfillment</text>
<text x="503" y="585.8">enjoyment</text>
<text x="730" y="539" class="b">reorientation</text>
<text x="730" y="554.6">various options</text>
<text x="730" y="570.2">fun to experimentalise</text>
<text x="730" y="585.8">paradox of living</text>
</g>
</svg>
</body></html>
